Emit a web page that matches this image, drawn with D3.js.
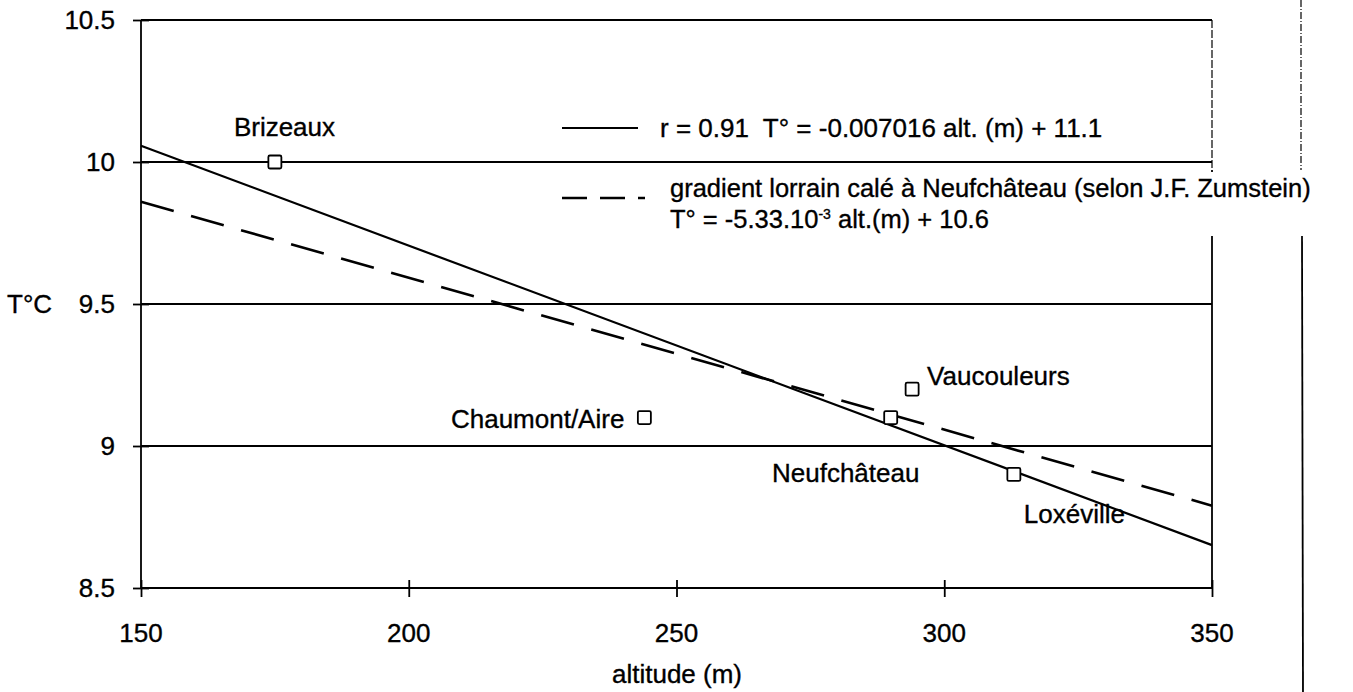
<!DOCTYPE html>
<html><head><meta charset="utf-8">
<script src="https://cdn.jsdelivr.net/npm/d3@7"></script>
<style>
html,body{margin:0;padding:0;background:#fff;}
svg{display:block;}
text{font-family:"Liberation Sans",Arial,Helvetica,sans-serif;fill:#000;stroke:#000;stroke-width:0.35px;}
</style></head>
<body>
<svg id="chart" width="1353" height="692"></svg>
<script>
// ---- data ----
const stations = ["Brizeaux", "Chaumont/Aire", "Neufchâteau", "Vaucouleurs", "Loxéville"];
const altitudes = [175, 244, 290, 294, 313];
const temps = [10.0, 9.1, 9.1, 9.2, 8.9];
const lineAlt = [150, 350];
const regressionTemp = [10.057, 8.651];   // r = 0.91, T = -0.007016 alt + 11.1
const gradientTemp = [9.86, 8.79];        // T = -5.33e-3 alt + 10.6
const xTicks = [150, 200, 250, 300, 350];
const yTicks = [8.5, 9, 9.5, 10, 10.5];
const yTickLabels = ["8.5", "9", "9.5", "10", "10.5"];

// ---- layout ----
const svg = d3.select("#chart");
const L = 141, R = 1212, T = 20, B = 588;
const FS = 26;
const BL = 9.3; // baseline offset from visual centre
const x = d3.scaleLinear().domain([150, 350]).range([L, R]);
const y = d3.scaleLinear().domain([8.5, 10.5]).range([B, T]);

// outer right vertical line (page frame)
svg.append("line").attr("x1", 1301).attr("x2", 1301).attr("y1", 0).attr("y2", 170)
  .attr("stroke", "#000").attr("stroke-width", 1.2).attr("stroke-dasharray", "7,2,1,2");
svg.append("line").attr("x1", 1302).attr("x2", 1303).attr("y1", 236).attr("y2", 692)
  .attr("stroke", "#000").attr("stroke-width", 1.8);

// horizontal gridlines (incl. top & bottom frame)
svg.append("g").selectAll("line").data(yTicks).join("line")
  .attr("x1", L).attr("x2", R).attr("y1", d => y(d)).attr("y2", d => y(d))
  .attr("stroke", "#000").attr("stroke-width", 1.8);

// left & right frame
svg.append("line").attr("x1", L).attr("x2", L).attr("y1", T).attr("y2", B)
  .attr("stroke", "#000").attr("stroke-width", 1.8);
svg.append("line").attr("x1", R).attr("x2", R).attr("y1", T).attr("y2", 170)
  .attr("stroke", "#000").attr("stroke-width", 1.2).attr("stroke-dasharray", "8,2");
svg.append("line").attr("x1", R).attr("x2", R).attr("y1", 170).attr("y2", B)
  .attr("stroke", "#000").attr("stroke-width", 1.8);

// axes with crossing ticks
const yAxis = d3.axisLeft(y).tickValues(yTicks).tickSize(8).tickFormat("");
const gy = svg.append("g").attr("transform", `translate(${L},0)`).call(yAxis);
gy.select(".domain").remove();
gy.selectAll(".tick line").attr("x1", 8).attr("x2", -8).attr("stroke-width", 1.8);
const xAxis = d3.axisBottom(x).tickValues(xTicks).tickSize(8).tickFormat("");
const gx = svg.append("g").attr("transform", `translate(0,${B})`).call(xAxis);
gx.select(".domain").remove();
gx.selectAll(".tick line").attr("y1", -8).attr("y2", 9).attr("stroke-width", 1.8);

// tick labels
svg.append("g").selectAll("text").data(yTicks).join("text")
  .attr("x", L - 26).attr("y", d => y(d) + BL).attr("text-anchor", "end")
  .attr("font-size", FS).text((d, i) => yTickLabels[i]);
svg.append("g").selectAll("text").data(xTicks).join("text")
  .attr("x", d => x(d)).attr("y", 642).attr("text-anchor", "middle")
  .attr("font-size", FS).text(d => d);

// axis titles
svg.append("text").attr("x", 677).attr("y", 683).attr("text-anchor", "middle")
  .attr("font-size", FS).text("altitude (m)");
svg.append("text").attr("x", 7).attr("y", y(9.5) + BL).attr("font-size", FS).text("T°C");

// lines
const lineGen = d3.line().x(d => x(d[0])).y(d => y(d[1]));
svg.append("path").datum(lineAlt.map((a, i) => [a, regressionTemp[i]]))
  .attr("d", lineGen).attr("fill", "none").attr("stroke", "#000").attr("stroke-width", 2.2);
svg.append("path").datum(lineAlt.map((a, i) => [a, gradientTemp[i]]))
  .attr("d", lineGen).attr("fill", "none").attr("stroke", "#000").attr("stroke-width", 2.6)
  .attr("stroke-dasharray", "34,18");

// points
const pts = stations.map((s, i) => ({ name: s, alt: altitudes[i], t: temps[i] }));
const S = 13;
svg.append("g").selectAll("rect").data(pts).join("rect")
  .attr("x", d => x(d.alt) - S / 2).attr("y", d => y(d.t) - S / 2)
  .attr("width", S).attr("height", S).attr("rx", 1.5)
  .attr("fill", "#fff").attr("stroke", "#000").attr("stroke-width", 1.8);

// point labels
const labelPlace = {
  "Brizeaux": { dx: -41, dy: -35, anchor: "start" },
  "Chaumont/Aire": { dx: -20, dy: 1, anchor: "end" },
  "Neufchâteau": { dx: -45, dy: 55, anchor: "middle" },
  "Vaucouleurs": { dx: 15, dy: -14, anchor: "start" },
  "Loxéville": { dx: 10, dy: 39, anchor: "start" }
};
svg.append("g").selectAll("text").data(pts).join("text")
  .attr("x", d => x(d.alt) + labelPlace[d.name].dx)
  .attr("y", d => y(d.t) + labelPlace[d.name].dy + BL)
  .attr("text-anchor", d => labelPlace[d.name].anchor)
  .attr("font-size", FS).text(d => d.name);

// legend
svg.append("rect").attr("x", 660).attr("y", 172).attr("width", 693).attr("height", 64).attr("fill", "#fff");
svg.append("line").attr("x1", 562).attr("x2", 638).attr("y1", 128).attr("y2", 128)
  .attr("stroke", "#000").attr("stroke-width", 2.2);
svg.append("text").attr("x", 660).attr("y", 128 + BL).attr("font-size", FS)
  .attr("xml:space", "preserve").text("r = 0.91  T° = -0.007016 alt. (m) + 11.1");
svg.append("line").attr("x1", 562).attr("x2", 645).attr("y1", 198).attr("y2", 198)
  .attr("stroke", "#000").attr("stroke-width", 2.6).attr("stroke-dasharray", "25,13");
const LF = 25.5;
svg.append("text").attr("x", 670).attr("y", 197).attr("font-size", LF)
  .text("gradient lorrain calé à Neufchâteau (selon J.F. Zumstein)");
const t2 = svg.append("text").attr("x", 670).attr("y", 227.5).attr("font-size", LF);
t2.append("tspan").text("T° = -5.33.10");
t2.append("tspan").attr("dy", -9).attr("font-size", 14).text("-3");
t2.append("tspan").attr("dy", 9).text(" alt.(m) + 10.6");
</script>
</body></html>
